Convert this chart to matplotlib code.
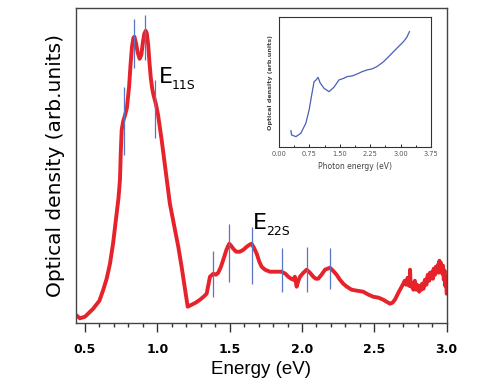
import matplotlib
matplotlib.use("Agg")
import matplotlib.pyplot as plt
from matplotlib.ticker import MultipleLocator

# Main spectrum (energy in eV, optical density in arb. units)
energy = [0.438, 0.465, 0.50, 0.557, 0.60, 0.626, 0.650, 0.673, 0.695, 0.719,
          0.732, 0.742, 0.748, 0.754, 0.765, 0.776, 0.790, 0.805, 0.815, 0.825,
          0.835, 0.842, 0.852, 0.865, 0.878, 0.890, 0.900, 0.910, 0.920, 0.928,
          0.937, 0.946, 0.955, 0.965, 0.975, 0.990, 1.005, 1.030, 1.060, 1.087,
          1.122, 1.145, 1.168, 1.190, 1.210, 1.237, 1.265, 1.295, 1.320, 1.341,
          1.353, 1.364, 1.387, 1.405, 1.421, 1.440, 1.456, 1.478, 1.497, 1.510,
          1.525, 1.545, 1.571, 1.595, 1.618, 1.638, 1.652, 1.668, 1.687, 1.705,
          1.721, 1.745, 1.778, 1.820, 1.859, 1.885, 1.905, 1.925, 1.940, 1.951,
          1.963, 1.975, 1.986, 2.010, 2.032, 2.055, 2.078, 2.095, 2.112, 2.135,
          2.159, 2.193, 2.215, 2.239, 2.262, 2.285, 2.31, 2.343, 2.38, 2.423,
          2.46, 2.492, 2.53, 2.561, 2.585, 2.608, 2.625, 2.642, 2.67, 2.700,
          2.71, 2.72, 2.73, 2.74, 2.745, 2.747, 2.75, 2.755, 2.76, 2.77,
          2.775, 2.78, 2.79, 2.795, 2.80, 2.81, 2.815, 2.825, 2.83, 2.84,
          2.845, 2.85, 2.86, 2.865, 2.87, 2.88, 2.885, 2.89, 2.90, 2.905,
          2.91, 2.92, 2.925, 2.93, 2.94, 2.945, 2.95, 2.955, 2.96, 2.97,
          2.975, 2.98, 2.985, 2.99, 2.995, 3.0]
od = [7.7, 4.4, 6, 14, 22, 32.7, 44, 59, 80, 109,
      125, 143, 172, 193, 202, 207, 215, 236, 258, 276,
      285, 286, 280, 270, 264, 268, 280, 289, 292, 289,
      278, 260, 245, 234, 227, 219, 208, 183, 149, 119,
      93, 76, 56, 35, 16, 18, 20, 23, 26, 29,
      38, 46, 49, 48, 50, 56, 63, 73, 79, 77,
      74, 71, 71, 73, 76, 78, 79, 75, 69, 61,
      56, 53, 51, 51, 51, 49, 46, 44, 43, 46,
      36, 42, 46, 50, 53, 50, 46, 44, 44, 48,
      53, 55, 52, 48, 43, 39, 36, 33, 32, 31,
      28, 26, 25, 23, 21, 19, 20, 23, 31, 39,
      42, 38, 45, 37, 43, 53, 39, 36, 40, 33,
      39, 42, 33, 38, 35, 31, 37, 33, 39, 34,
      40, 43, 38, 45, 48, 42, 50, 45, 51, 44,
      54, 48, 56, 51, 58, 50, 62, 53, 60, 49,
      57, 43, 52, 37, 46, 29]

# Marker lines (position, lower, upper)
mark_pos = [0.770, 0.837, 0.917, 0.982, 1.382, 1.495, 1.652, 1.864, 2.034, 2.197]
mark_lo = [167.7, 254.4, 262.7, 184.4, 26, 41, 38.7, 31, 31, 33.4]
mark_hi = [236, 303.4, 307.7, 242.7, 71.7, 98.7, 96, 74.4, 76, 75]

# Inset spectrum
in_energy = [0.294, 0.31, 0.417, 0.539, 0.662, 0.743, 0.80, 0.866, 0.915, 0.964,
             1.013, 1.111, 1.234, 1.356, 1.479, 1.601, 1.683, 1.806, 1.928, 2.051,
             2.173, 2.296, 2.418, 2.582, 2.745, 2.908, 3.072, 3.153, 3.219]
in_od = [0.128, 0.095, 0.082, 0.108, 0.185, 0.287, 0.39, 0.505, 0.518, 0.538,
         0.497, 0.454, 0.428, 0.462, 0.518, 0.531, 0.544, 0.549, 0.564, 0.582,
         0.595, 0.603, 0.621, 0.659, 0.710, 0.762, 0.813, 0.846, 0.890]

x_ticks = [0.5, 1.0, 1.5, 2.0, 2.5, 3.0]
in_ticks = [0.00, 0.75, 1.50, 2.25, 3.00, 3.75]

fig = plt.figure(figsize=(4.95, 3.86), dpi=100)
ax = fig.add_axes([0.1535, 0.164, 0.7489, 0.815])
ax.plot(energy, od, color="#e6222a", lw=2.8, solid_joinstyle="round",
        solid_capstyle="round", zorder=2)
ax.vlines(mark_pos, mark_lo, mark_hi, color="#5a74c4", lw=0.9, zorder=3)
ax.set_xlim(0.438, 3.0)
ax.set_ylim(0, 314.7)
ax.set_yticks([])
ax.set_xticks(x_ticks)
ax.set_xticklabels([f"{t:.1f}" for t in x_ticks], fontweight="bold", fontsize=9)
ax.xaxis.set_minor_locator(MultipleLocator(0.1))
ax.tick_params(axis="x", which="major", direction="out", length=6.5, width=1, color="#333333", pad=8)
ax.tick_params(axis="x", which="minor", direction="out", length=3.2, width=1, color="#333333")
for s in ax.spines.values():
    s.set_color("#444444")
    s.set_linewidth(1.0)
ax.set_xlabel("Energy (eV)", fontsize=13.5, family="Liberation Sans", labelpad=4)
ax.set_ylabel("Optical density (arb.units)", fontsize=14.5, labelpad=8)

ax.annotate("E", (1.01, 240), fontsize=16, ha="left", va="baseline")
ax.annotate("11S", (1.01, 240), xytext=(9.6, -4.5), textcoords="offset points",
            fontsize=9, ha="left", va="baseline")
ax.annotate("E", (1.663, 93.7), fontsize=16, ha="left", va="baseline")
ax.annotate("22S", (1.663, 93.7), xytext=(9.6, -4.5), textcoords="offset points",
            fontsize=9, ha="left", va="baseline")

ins = fig.add_axes([0.5636, 0.6184, 0.3071, 0.3368])
ins.plot(in_energy, in_od, color="#4a5fb5", lw=0.9)
ins.set_xlim(0, 3.75)
ins.set_ylim(0, 1)
ins.set_yticks([])
ins.set_xticks(in_ticks)
ins.set_xticklabels([f"{t:.2f}" for t in in_ticks], fontsize=4.8, color="#555555")
ins.xaxis.set_minor_locator(MultipleLocator(0.375))
ins.tick_params(axis="x", which="major", direction="in", length=2.5, width=0.6, pad=3)
ins.tick_params(axis="x", which="minor", direction="in", length=1.5, width=0.6)
for s in ins.spines.values():
    s.set_color("#333333")
    s.set_linewidth(0.8)
ins.set_xlabel("Photon energy (eV)", fontsize=5.5, color="#444444", labelpad=3)
ins.set_ylabel("Optical density (arb.units)", fontsize=4.6, color="#444444",
               fontweight="bold", labelpad=4)

fig.savefig("out.png", dpi=100)
